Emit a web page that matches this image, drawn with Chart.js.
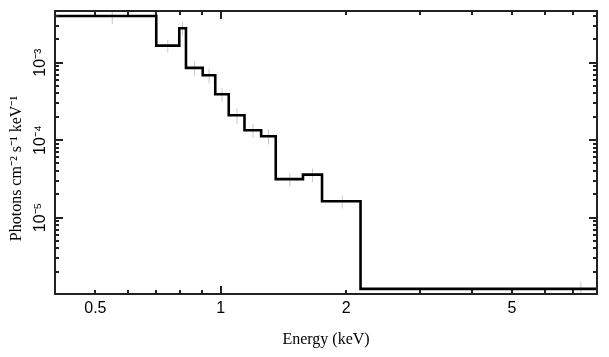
<!DOCTYPE html>
<html><head><meta charset="utf-8">
<script src="https://cdn.jsdelivr.net/npm/chart.js@4/dist/chart.umd.min.js"></script>
<style>html,body{margin:0;padding:0;background:#fff;}</style>
</head><body>
<canvas id="c" width="609" height="357"></canvas>
<script>
// Bin edges (keV) of the unfolded spectrum; last edge lies beyond the plotted range
const binEdges = [0.40, 0.70, 0.795, 0.825, 0.905, 0.97, 1.045, 1.14, 1.25, 1.355, 1.575, 1.75, 2.165, 12.5];
// Flux per bin (photons cm^-2 s^-1 keV^-1)
const flux = [4.0e-3, 1.66e-3, 2.78e-3, 8.55e-4, 6.87e-4, 3.91e-4, 2.09e-4, 1.34e-4, 1.12e-4, 3.13e-5, 3.58e-5, 1.62e-5, 1.2e-6];
// 1-sigma errors per bin
const fluxErr = [0.87e-3, 0.31e-3, 0.57e-3, 1.8e-4, 1.5e-4, 0.77e-4, 0.47e-4, 0.27e-4, 0.24e-4, 0.62e-5, 0.72e-5, 0.31e-5, 0.3e-6];
// Energies where the error bars are drawn (bin centres)
const errEnergy = [0.549, 0.746, 0.809, 0.865, 0.9375, 1.007, 1.094, 1.195, 1.302, 1.465, 1.66, 1.957, 7.32];
// Axis ranges and labelled ticks
const xRange = [0.4, 8];
const yRange = [1.03e-6, 4.64e-3];
const xTickLabels = [0.5, 1, 2, 5];
const yTickLabels = [1e-5, 1e-4, 1e-3];

const SUP = {'-':'\u207B','0':'\u2070','1':'\u00B9','2':'\u00B2','3':'\u00B3','4':'\u2074','5':'\u2075','6':'\u2076','7':'\u2077','8':'\u2078','9':'\u2079'};
function powLabel(v){
  const e = Math.round(Math.log10(v));
  return '10' + String(e).split('').map(c => SUP[c]).join('');
}

const stepData = binEdges.map((e, i) => ({x: e, y: flux[Math.min(i, flux.length - 1)]}));
const errData = [];
errEnergy.forEach((e, i) => {
  errData.push({x: e, y: flux[i] - fluxErr[i]});
  errData.push({x: e, y: flux[i] + fluxErr[i]});
  errData.push({x: e, y: null});
});

const frameTicks = {
  id: 'frameTicks',
  afterDatasetsDraw(chart) {
    const {ctx, chartArea: a, scales: {x, y}} = chart;
    ctx.save();
    ctx.strokeStyle = '#222';
    ctx.lineWidth = 2;
    ctx.beginPath();
    for (let d = -1; d <= 0; d++) {
      for (let m = 1; m <= 9; m++) {
        const v = m * Math.pow(10, d);
        if (v < xRange[0] - 1e-9 || v > xRange[1] + 1e-9) continue;
        const px = Math.round(x.getPixelForValue(v));
        const len = m === 1 ? 8 : 4;
        ctx.moveTo(px, a.bottom); ctx.lineTo(px, a.bottom - len);
        ctx.moveTo(px, a.top); ctx.lineTo(px, a.top + len);
      }
    }
    for (let d = -7; d <= -3; d++) {
      for (let m = 1; m <= 9; m++) {
        const v = m * Math.pow(10, d);
        if (v < yRange[0] || v > yRange[1]) continue;
        const py = Math.round(y.getPixelForValue(v));
        const len = m === 1 ? 8 : 4;
        ctx.moveTo(a.left, py); ctx.lineTo(a.left + len, py);
        ctx.moveTo(a.right, py); ctx.lineTo(a.right - len, py);
      }
    }
    ctx.stroke();
    ctx.strokeRect(a.left, a.top, a.right - a.left, a.bottom - a.top);
    ctx.restore();
  }
};

new Chart(document.getElementById('c'), {
  type: 'line',
  data: {
    datasets: [
      {
        label: 'spectrum',
        data: stepData,
        stepped: 'before',
        borderColor: '#000',
        borderWidth: 2.6,
        pointRadius: 0,
        fill: false,
        clip: 0
      },
      {
        label: 'errors',
        data: errData,
        borderColor: '#c8c8c8',
        borderWidth: 1,
        pointRadius: 0,
        spanGaps: false,
        fill: false,
        clip: 0
      }
    ]
  },
  options: {
    responsive: false,
    devicePixelRatio: 1,
    animation: false,
    layout: {padding: {left: 0, right: 12, top: 11, bottom: 0}},
    plugins: {legend: {display: false}, tooltip: {enabled: false}},
    scales: {
      x: {
        type: 'logarithmic',
        position: 'bottom',
        min: xRange[0], max: xRange[1],
        grid: {display: false, drawTicks: false},
        border: {display: false},
        afterBuildTicks: s => { s.ticks = xTickLabels.map(v => ({value: v})); },
        afterFit: s => { s.height = 63; },
        ticks: {
          autoSkip: false, maxRotation: 0, minRotation: 0, padding: 5,
          color: '#000',
          font: {family: 'Liberation Sans', size: 16},
          callback: v => String(v)
        },
        title: {
          display: true, text: 'Energy (keV)', color: '#000',
          font: {family: 'Liberation Serif', size: 16},
          padding: {top: 0, bottom: 8}
        }
      },
      y: {
        type: 'logarithmic',
        position: 'left',
        min: yRange[0], max: yRange[1],
        grid: {display: false, drawTicks: false},
        border: {display: false},
        afterBuildTicks: s => { s.ticks = yTickLabels.map(v => ({value: v})); },
        afterFit: s => { s.width = 55; },
        ticks: {
          autoSkip: false, minRotation: 90, maxRotation: 90, crossAlign: 'center', padding: 0,
          color: '#000',
          font: {family: 'Liberation Sans', size: 16},
          callback: v => powLabel(v)
        },
        title: {
          display: true, text: 'Photons cm\u207B\u00B2 s\u207B\u00B9 keV\u207B\u00B9        ', color: '#000',
          font: {family: 'Liberation Serif', size: 16},
          padding: {top: 7, bottom: 0}
        }
      }
    }
  },
  plugins: [frameTicks]
});
</script>
</body></html>
